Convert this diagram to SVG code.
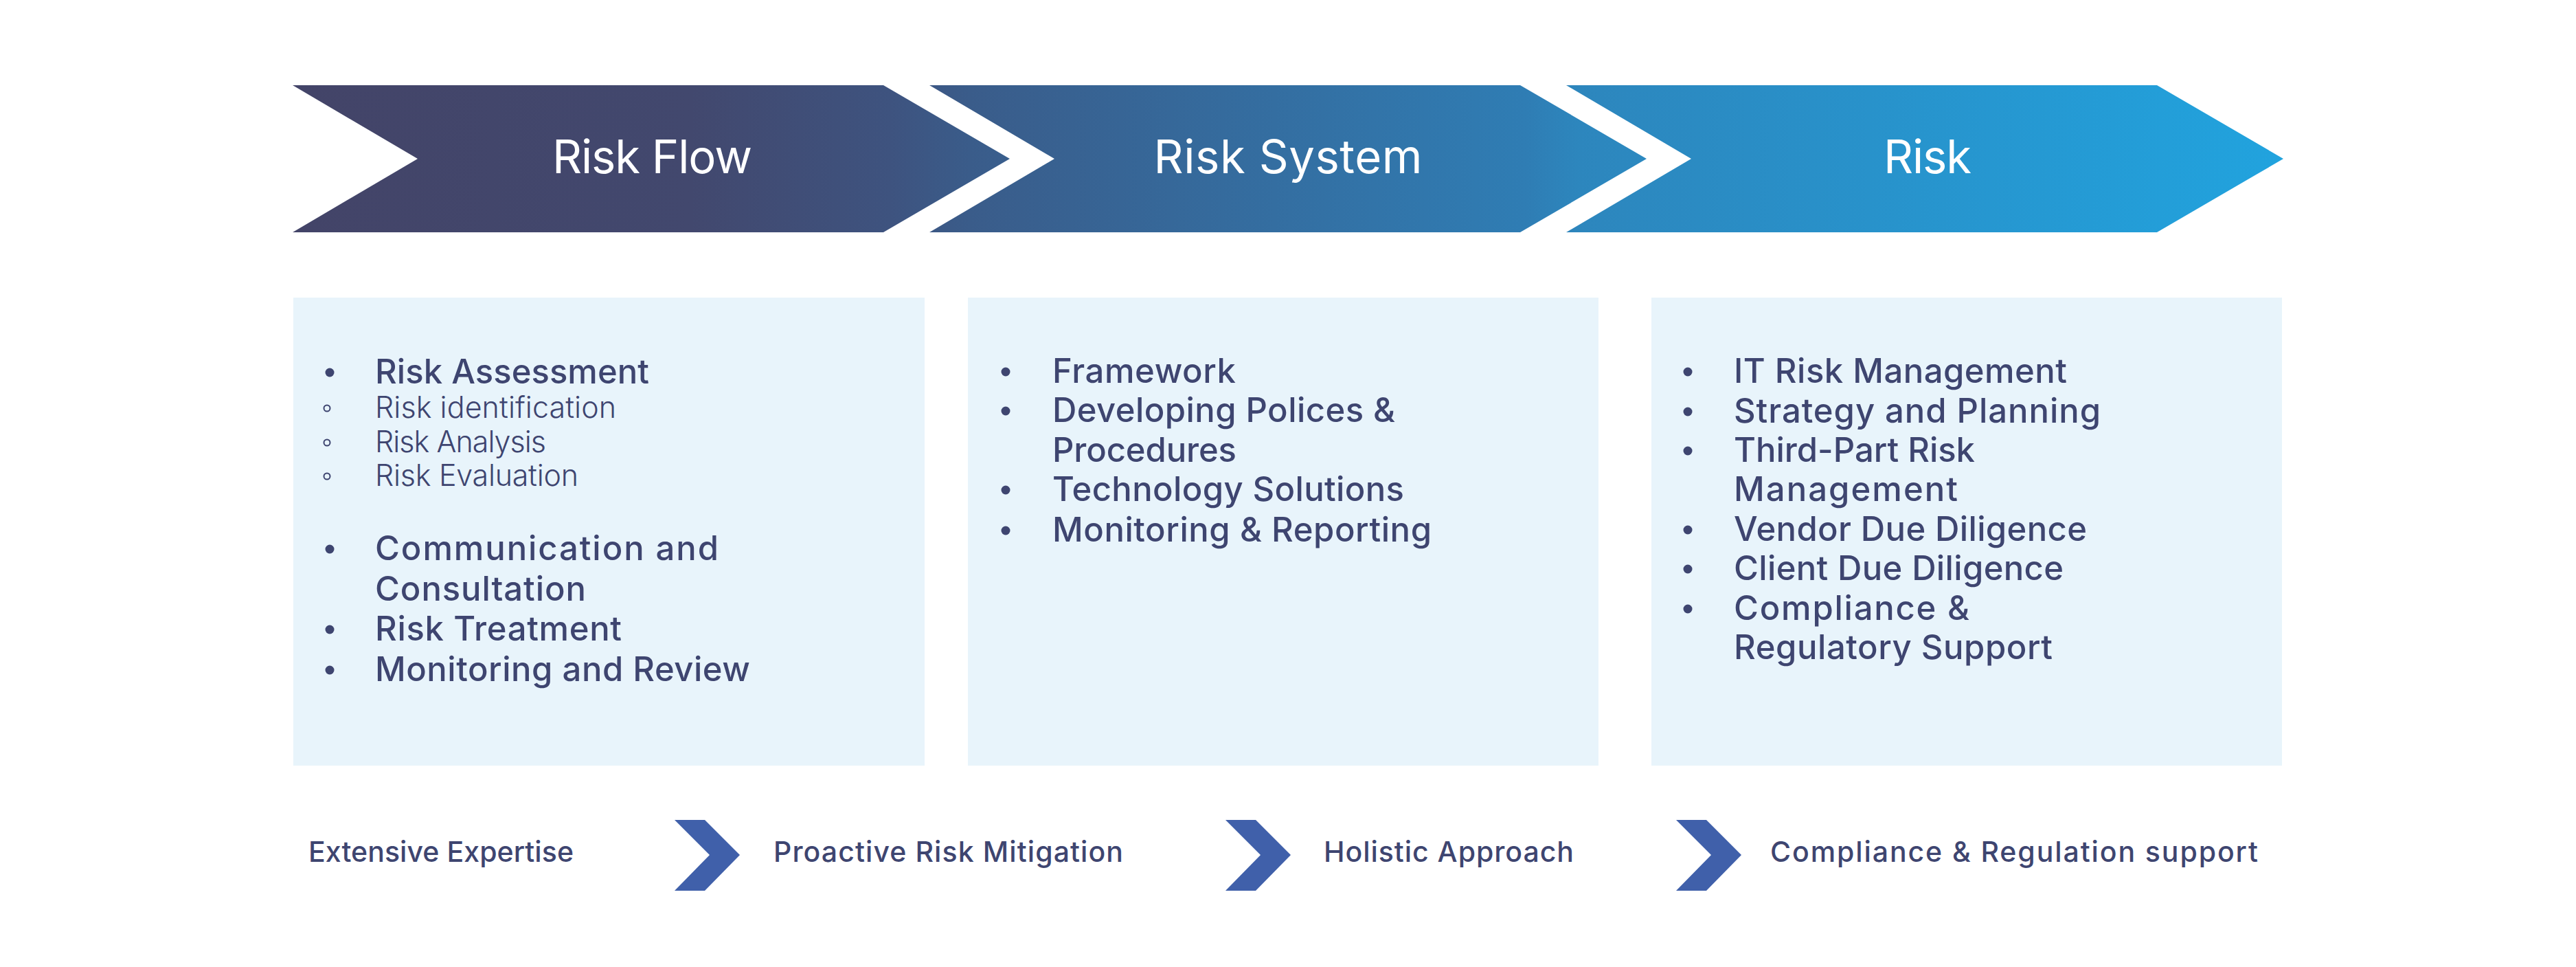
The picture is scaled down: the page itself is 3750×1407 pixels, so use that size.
<svg xmlns="http://www.w3.org/2000/svg" width="3750" height="1407" viewBox="0 0 3750 1407">
<defs>
<linearGradient id="band" gradientUnits="userSpaceOnUse" x1="426" y1="0" x2="3324" y2="0">
<stop offset="0" stop-color="#434468"/>
<stop offset="0.2" stop-color="#42486e"/>
<stop offset="0.3" stop-color="#3e537f"/>
<stop offset="0.34" stop-color="#3a5c8a"/>
<stop offset="0.62" stop-color="#2f7db4"/>
<stop offset="0.645" stop-color="#2d86bd"/>
<stop offset="1" stop-color="#21a3de"/>
</linearGradient>
<style>
.title{font-family:Inter,"Liberation Sans",sans-serif;font-size:67px;font-weight:400;fill:#ffffff;text-anchor:middle}
.box{fill:#e8f4fb}
.item{font-family:Inter,"Liberation Sans",sans-serif;font-size:49px;font-weight:500;fill:#3e4570}
.sub{font-family:Inter,"Liberation Sans",sans-serif;font-size:43px;font-weight:300;fill:#3e4570}
.dot{fill:#3e4570}
.ring{fill:none;stroke:#3e4570;stroke-width:2}
.foot{font-family:Inter,"Liberation Sans",sans-serif;font-size:41px;font-weight:500;fill:#3e4570}
.arr{fill:#4060aa}
</style>
</defs>
<rect width="3750" height="1407" fill="#ffffff"/>

<g id="stage-risk-flow">
<polygon fill="url(#band)" points="426,124 1286,124 1470,231 1286,338 426,338 608,231"/>
<text class="title" x="949.5" y="252" textLength="291">Risk Flow</text>
</g>
<g id="stage-risk-system">
<polygon fill="url(#band)" points="1353,124 2213,124 2397,231 2213,338 1353,338 1535,231"/>
<text class="title" x="1875" y="252" textLength="391">Risk System</text>
</g>
<g id="stage-risk">
<polygon fill="url(#band)" points="2280,124 3140,124 3324,231 3140,338 2280,338 2462,231"/>
<text class="title" x="2806" y="252" textLength="128">Risk</text>
</g>

<g id="box-risk-flow">
<rect class="box" x="427" y="433" width="919" height="681"/>
<circle class="dot" cx="480" cy="542" r="6.5"/>
<text class="item" x="546" y="558" textLength="399">Risk Assessment</text>
<circle class="ring" cx="476" cy="594" r="4.5"/>
<text class="sub" x="546" y="608" textLength="351">Risk identification</text>
<circle class="ring" cx="476" cy="644" r="4.5"/>
<text class="sub" x="546" y="658" textLength="249">Risk Analysis</text>
<circle class="ring" cx="476" cy="693" r="4.5"/>
<text class="sub" x="546" y="707" textLength="296">Risk Evaluation</text>
<circle class="dot" cx="480" cy="799" r="6.5"/>
<text class="item" x="546" y="815" textLength="500">Communication and</text>
<text class="item" x="546" y="874" textLength="307">Consultation</text>
<circle class="dot" cx="480" cy="916" r="6.5"/>
<text class="item" x="546" y="932" textLength="359">Risk Treatment</text>
<circle class="dot" cx="480" cy="975" r="6.5"/>
<text class="item" x="546" y="991" textLength="546">Monitoring and Review</text>
</g>

<g id="box-risk-system">
<rect class="box" x="1409" y="433" width="918" height="681"/>
<circle class="dot" cx="1464" cy="541" r="6.5"/>
<text class="item" x="1532" y="557" textLength="267">Framework</text>
<circle class="dot" cx="1464" cy="598" r="6.5"/>
<text class="item" x="1532" y="614" textLength="499">Developing Polices &amp;</text>
<text class="item" x="1532" y="672" textLength="268">Procedures</text>
<circle class="dot" cx="1464" cy="713" r="6.5"/>
<text class="item" x="1532" y="729" textLength="512">Technology Solutions</text>
<circle class="dot" cx="1464" cy="772" r="6.5"/>
<text class="item" x="1532" y="788" textLength="552">Monitoring &amp; Reporting</text>
</g>

<g id="box-risk">
<rect class="box" x="2404" y="433" width="918" height="681"/>
<circle class="dot" cx="2457" cy="541" r="6.5"/>
<text class="item" x="2524" y="557" textLength="485">IT Risk Management</text>
<circle class="dot" cx="2457" cy="599" r="6.5"/>
<text class="item" x="2524" y="615" textLength="534">Strategy and Planning</text>
<circle class="dot" cx="2457" cy="656" r="6.5"/>
<text class="item" x="2524" y="672" textLength="351">Third-Part Risk</text>
<text class="item" x="2524" y="729" textLength="326">Management</text>
<circle class="dot" cx="2457" cy="771" r="6.5"/>
<text class="item" x="2524" y="787" textLength="514">Vendor Due Diligence</text>
<circle class="dot" cx="2457" cy="828" r="6.5"/>
<text class="item" x="2524" y="844" textLength="480">Client Due Diligence</text>
<circle class="dot" cx="2457" cy="886" r="6.5"/>
<text class="item" x="2524" y="902" textLength="343">Compliance &amp;</text>
<text class="item" x="2524" y="959" textLength="464">Regulatory Support</text>
</g>

<g id="benefit-extensive-expertise">
<text class="foot" x="449" y="1254" textLength="386">Extensive Expertise</text>
</g>
<g id="benefit-proactive-risk-mitigation">
<text class="foot" x="1126" y="1254" textLength="509">Proactive Risk Mitigation</text>
</g>
<g id="benefit-holistic-approach">
<text class="foot" x="1927" y="1254" textLength="364">Holistic Approach</text>
</g>
<g id="benefit-compliance">
<text class="foot" x="2577" y="1254" textLength="710">Compliance &amp; Regulation support</text>
</g>

<g id="connectors">
<polygon class="arr" points="982,1193 1026,1193 1077,1244 1026,1296 982,1296 1033,1244"/>
<polygon class="arr" points="1784,1193 1828,1193 1879,1244 1828,1296 1784,1296 1835,1244"/>
<polygon class="arr" points="2440,1193 2484,1193 2535,1244 2484,1296 2440,1296 2491,1244"/>
</g>
</svg>
